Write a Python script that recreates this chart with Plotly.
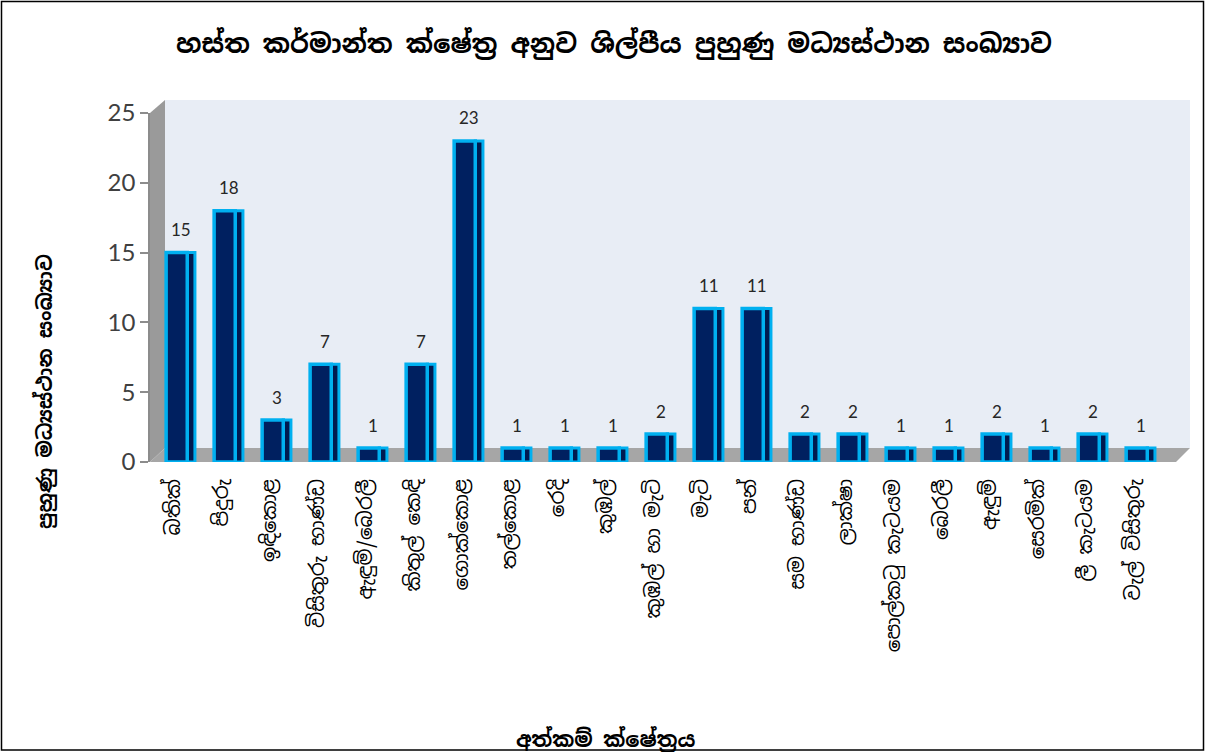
import plotly.graph_objects as go

# ---------------- data ----------------
categories = [
    "බතික්", "පිදුරු", "ඉඳිකොළ", "විසිතුරු භාණ්ඩ", "ඇඳුම්/බෙරලී",
    "කිතුල් කෙඳි", "ගොක්කොළ", "තල්කොළ", "රෙදි", "කුඹල්",
    "කුඹල් හා මැටි", "මැටි", "පන්", "සම භාණ්ඩ", "ලාක්ෂා",
    "පොල්කටු කැටයම", "බෙරලී", "ඇඳුම්", "සෙරමික්", "ලී කැටයම", "වැල් විසිතුරු",
]
centres = [15, 18, 3, 7, 1, 7, 23, 1, 1, 1, 2, 11, 11, 2, 2, 1, 1, 2, 1, 2, 1]
y_ticks = [0, 5, 10, 15, 20, 25]

title_text = "හස්ත කර්මාන්ත ක්ෂේත්‍ර අනුව ශිල්පීය පුහුණු මධ්‍යස්ථාන සංඛ්‍යාව"
y_title = "පුහුණු මධ්‍යස්ථාන සංඛ්‍යාව"
x_title = "අත්කම් ක්ෂේත්‍රය"

# ---------------- layout constants ----------------
W, H = 1206, 752
ML, MR, MT, MB = 150, 16, 113, 290
PW = W - ML - MR
PH = H - MT - MB

SIN = "Noto Sans Sinhala, Iskoola Pota, Noto Sans, DejaVu Sans, sans-serif"
NUM = "Lato, Open Sans, sans-serif"

def px(x):
    return (x - ML) / PW

def py(y):
    return (H - MB - y) / PH

idx = list(range(len(categories)))

fig = go.Figure()

# side face of the 3D bars
fig.add_trace(go.Bar(
    x=idx, y=centres, width=0.16, offset=0.13,
    marker=dict(color="#001a50", line=dict(color="#00b0f0", width=3)),
    hoverinfo="skip", showlegend=False,
))
# front face
fig.add_trace(go.Bar(
    x=idx, y=centres, width=0.44, offset=-0.31,
    marker=dict(color="#002060", line=dict(color="#00b0f0", width=3.5)),
    showlegend=False,
))

annotations = []
for i, v in zip(idx, centres):
    annotations.append(dict(
        x=i, y=v, xref="x", yref="y", text=str(v), showarrow=False,
        yshift=23, font=dict(family=NUM, size=17, color="#262626"),
    ))

annotations += [
    dict(text="<b>" + title_text + "</b>", x=px(614), y=py(44), xref="paper", yref="paper",
         showarrow=False, font=dict(family=SIN, size=26, color="black"),
         xanchor="center", yanchor="middle"),
    dict(text="<b>" + y_title + "</b>", x=px(45), y=py(392), xref="paper", yref="paper",
         showarrow=False, textangle=-90, font=dict(family=SIN, size=20, color="black"),
         xanchor="center", yanchor="middle"),
    dict(text="<b>" + x_title + "</b>", x=px(605), y=py(739), xref="paper", yref="paper",
         showarrow=False, font=dict(family=SIN, size=21, color="black"),
         xanchor="center", yanchor="middle"),
]

def poly(points):
    return "M " + " L ".join(f"{px(a)},{py(b)}" for a, b in points) + " Z"

shapes = [
    # back wall
    dict(type="path", xref="paper", yref="paper", layer="below",
         path=poly([(165, 100), (1190, 100), (1190, 448), (165, 448)]),
         fillcolor="#e8edf5", line=dict(width=0)),
    # left side wall
    dict(type="path", xref="paper", yref="paper", layer="below",
         path=poly([(150, 462), (150, 113), (165, 100), (165, 448)]),
         fillcolor="#9a9a9a", line=dict(width=0)),
    # floor
    dict(type="path", xref="paper", yref="paper", layer="below",
         path=poly([(150, 462), (1176, 462), (1190, 448), (165, 448)]),
         fillcolor="#a6a6a6", line=dict(width=0)),
    # outer border
    dict(type="rect", xref="paper", yref="paper", layer="above",
         x0=px(1.5), x1=px(W - 2.5), y0=py(H - 2), y1=py(1.5),
         line=dict(color="black", width=1.5), fillcolor="rgba(0,0,0,0)"),
]

fig.update_layout(
    width=W, height=H,
    margin=dict(l=ML, r=MR, t=MT, b=MB),
    paper_bgcolor="white", plot_bgcolor="rgba(0,0,0,0)",
    barmode="overlay",
    showlegend=False,
    annotations=annotations,
    shapes=shapes,
    xaxis=dict(
        range=[-0.646, 21.02], tickmode="array", tickvals=idx, ticktext=categories,
        tickangle=-90, showgrid=False, zeroline=False, showline=False,
        ticks="", ticklabelstandoff=12, ticklabelshift=-8,
        tickfont=dict(family=SIN, size=20, color="black"),
    ),
    yaxis=dict(
        range=[0, 25], tickvals=y_ticks, showgrid=False, zeroline=False,
        showline=True, linecolor="#8c8c8c", linewidth=1.5,
        ticks="outside", ticklen=8, tickcolor="#8c8c8c", tickwidth=1.5,
        tickfont=dict(family=NUM, size=24, color="#404040"),
    ),
)

fig.write_html(
    "out.html",
    config={"displayModeBar": False},
    post_script="document.body.style.margin='0';document.body.style.overflow='hidden';",
)
